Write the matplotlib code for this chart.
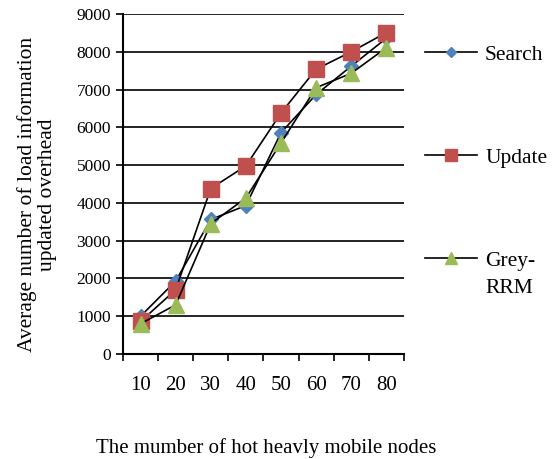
import numpy as np
import matplotlib.pyplot as plt

plt.rcParams['font.family'] = ['Liberation Serif', 'DejaVu Serif']

nodes = ['10', '20', '30', '40', '50', '60', '70', '80']
search = [1000, 1930, 3560, 3930, 5860, 6870, 7620, 8360]
update = [860, 1700, 4380, 4980, 6380, 7540, 8000, 8510]
grey_rrm = [800, 1300, 3450, 4130, 5590, 7050, 7430, 8110]

fig = plt.figure(figsize=(5.6, 4.59), dpi=100)
ax = fig.add_axes([0.2196, 0.2288, 0.5018, 0.7407])

x = np.arange(len(nodes)) + 0.5
ax.plot(x, search, color='black', lw=1.2, marker='D', ms=7,
        mfc='#4F81BD', mec='#4F81BD', label='Search', zorder=3)
ax.plot(x, update, color='black', lw=1.2, marker='s', ms=11,
        mfc='#C0504D', mec='#C0504D', label='Update', zorder=3)
ax.plot(x, grey_rrm, color='black', lw=1.2, marker='^', ms=11,
        mfc='#9BBB59', mec='#9BBB59', label='Grey-', zorder=3)

ax.set_xlim(0, len(nodes))
ax.set_ylim(0, 9000)
ax.set_yticks(np.arange(0, 9001, 1000))
ax.yaxis.grid(True, color='black', lw=1.2)
ax.set_axisbelow(True)

# boundaries get the tick marks, centers carry the labels
ax.set_xticks(np.arange(len(nodes) + 1))
ax.set_xticklabels([])
ax.set_xticks(x, minor=True)
ax.set_xticklabels(nodes, minor=True, fontsize=15)
ax.tick_params(axis='x', which='major', direction='out', length=5, width=1.2)
ax.tick_params(axis='x', which='minor', length=0, pad=16)
ax.tick_params(axis='y', direction='out', length=5, width=1.2, labelsize=12.5)

for s in ['right', 'top']:
    ax.spines[s].set_visible(False)
for s in ['left', 'bottom']:
    ax.spines[s].set_linewidth(1.5)

ax.set_ylabel('Average number of load information\nupdated overhead', fontsize=15.5,
              linespacing=1.05)
ax.yaxis.set_label_coords(-0.235, 0.468)
fig.text(0.475, 0.012, 'The mumber of hot heavly mobile nodes', ha='center', fontsize=15)

leg = ax.legend(loc='upper left', bbox_to_anchor=(1.075, 0.91), frameon=False,
                fontsize=15.5, labelspacing=3.85, handlelength=2.42,
                handletextpad=0.37, borderpad=0, borderaxespad=0, markerscale=0.8)

# second line of the Grey-RRM label, under the first
fig.canvas.draw()
bb = leg.get_texts()[2].get_window_extent()
fig.text(bb.x0 / fig.bbox.width, (bb.y0 - 27) / fig.bbox.height, 'RRM',
         fontsize=15.5, ha='left', va='bottom')

fig.savefig('out.png')
